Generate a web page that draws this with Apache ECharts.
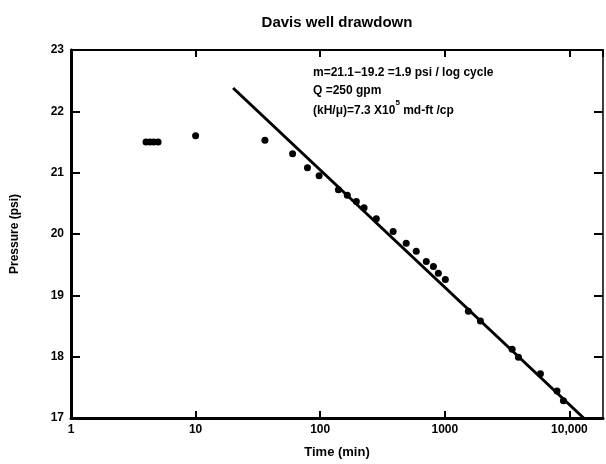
<!DOCTYPE html>
<html>
<head>
<meta charset="utf-8">
<script src="https://cdn.jsdelivr.net/npm/echarts@6/dist/echarts.min.js"></script>
<style>html,body{margin:0;padding:0;background:#fff;}#c{width:606px;height:464px;}</style>
</head>
<body>
<div id="c"></div>
<script>
const obsTime = [4, 4.3, 4.6, 5, 10, 36, 60, 79, 98, 140, 165, 195, 225, 282, 385, 490, 590, 710, 810, 887, 1010, 1545, 1930, 3470, 3900, 5850, 7950, 8950];
const obsPressure = [21.5, 21.5, 21.5, 21.5, 21.6, 21.53, 21.31, 21.08, 20.95, 20.72, 20.63, 20.53, 20.43, 20.25, 20.04, 19.85, 19.72, 19.55, 19.47, 19.36, 19.26, 18.74, 18.58, 18.12, 17.99, 17.72, 17.44, 17.28];
const fitTime = [20, 13000];
const fitPressure = [22.38, 17];
const xTicks = [1, 10, 100, 1000, 10000];
const xTickLabels = ['1', '10', '100', '1000', '10,000'];
const yTicks = [17, 18, 19, 20, 21, 22, 23];

const FONT = 'Liberation Sans';
const chart = echarts.init(document.getElementById('c'), null, {renderer: 'canvas'});
const xLabel = v => { const i = xTicks.indexOf(Math.round(v)); return i >= 0 ? xTickLabels[i] : ''; };
const baseX = {
  type: 'log', logBase: 10, min: 1, max: 18600,
  splitLine: {show: false}, minorTick: {show: false}
};
chart.setOption({
  animation: false,
  backgroundColor: '#fff',
  title: {
    text: 'Davis well drawdown', left: 332, textAlign: 'center', top: 10,
    textStyle: {fontFamily: FONT, fontWeight: 'bold', fontSize: 15, color: '#000'}
  },
  grid: {left: 71, right: 3, top: 50, bottom: 45, containLabel: false},
  xAxis: [
    Object.assign({}, baseX, {
      position: 'bottom',
      name: 'Time (min)', nameLocation: 'middle', nameGap: 28,
      nameTextStyle: {fontFamily: FONT, fontWeight: 'bold', fontSize: 13, color: '#000'},
      axisLine: {lineStyle: {color: '#000', width: 3}},
      axisTick: {inside: true, length: 7, lineStyle: {color: '#000', width: 2}},
      axisLabel: {formatter: xLabel, showMaxLabel: false, margin: 6, fontFamily: FONT, fontWeight: 'bold', fontSize: 12, color: '#000'}
    }),
    Object.assign({}, baseX, {
      position: 'top',
      axisLine: {lineStyle: {color: '#000', width: 2}},
      axisTick: {inside: true, length: 7, lineStyle: {color: '#000', width: 2}},
      axisLabel: {show: false}
    })
  ],
  yAxis: [
    {
      type: 'value', min: 17, max: 23, interval: 1, position: 'left',
      name: 'Pressure (psi)', nameLocation: 'middle', nameGap: 50, nameRotate: 90,
      nameTextStyle: {fontFamily: FONT, fontWeight: 'bold', fontSize: 12, color: '#000'},
      axisLine: {show: true, lineStyle: {color: '#000', width: 3}},
      axisTick: {show: true, inside: true, length: 9, lineStyle: {color: '#000', width: 2}},
      axisLabel: {margin: 7, fontFamily: FONT, fontWeight: 'bold', fontSize: 12, color: '#000'},
      splitLine: {show: false}
    },
    {
      type: 'value', min: 17, max: 23, interval: 1, position: 'right',
      axisLine: {show: true, lineStyle: {color: '#000', width: 1.5}},
      axisTick: {show: true, inside: true, length: 9, lineStyle: {color: '#000', width: 2}},
      axisLabel: {show: false},
      splitLine: {show: false}
    }
  ],
  series: [
    {
      type: 'line', xAxisIndex: 0, yAxisIndex: 0,
      data: fitTime.map((t, i) => [t, fitPressure[i]]),
      showSymbol: false, symbol: 'none',
      lineStyle: {color: '#000', width: 3}
    },
    {
      type: 'scatter', xAxisIndex: 0, yAxisIndex: 0,
      data: obsTime.map((t, i) => [t, obsPressure[i]]),
      symbol: 'circle', symbolSize: 7,
      itemStyle: {color: '#000', opacity: 1}
    }
  ],
  graphic: [
    {type: 'text', left: 313, top: 67, style: {text: 'm=21.1−19.2 =1.9 psi / log cycle', font: 'bold 12px "Liberation Sans"', fill: '#000'}},
    {type: 'text', left: 313, top: 85, style: {text: 'Q =250 gpm', font: 'bold 12px "Liberation Sans"', fill: '#000'}},
    {type: 'text', left: 313, top: 99, style: {
      text: '{a|(kH/μ)=7.3 X10}{s|5}{a| md-ft /cp}',
      rich: {
        a: {fontFamily: FONT, fontWeight: 'bold', fontSize: 12, color: '#000', verticalAlign: 'bottom', lineHeight: 18},
        s: {fontFamily: FONT, fontWeight: 'bold', fontSize: 8, color: '#000', verticalAlign: 'top', lineHeight: 18}
      }
    }}
  ]
});
</script>
</body>
</html>
